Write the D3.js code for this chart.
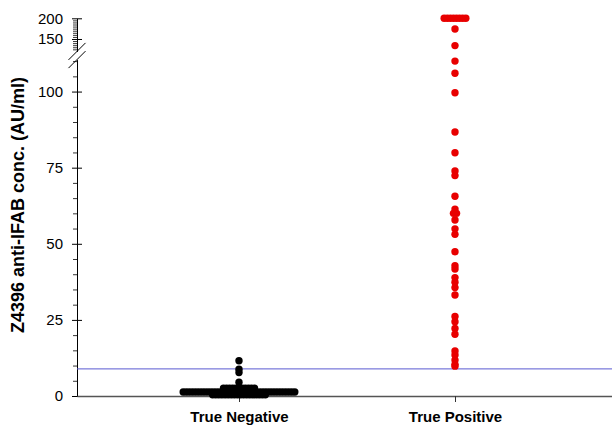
<!DOCTYPE html>
<html>
<head>
<meta charset="utf-8">
<script src="https://cdn.jsdelivr.net/npm/d3@7"></script>
<style>
  body { margin: 0; background: #fff; }
  text { font-family: "Liberation Sans", Arial, sans-serif; }
</style>
</head>
<body>
<svg id="chart" width="612" height="428"></svg>
<script>
// categories on the x axis
const categories = ["True Negative", "True Positive"];

// true negatives (AU/ml)
const negValues = [
  11.6, 8.8, 7.7, 4.5,
  2.6, 2.6, 2.6, 2.6, 2.6, 2.6, 2.6, 2.6, 2.6, 2.6, 2.6,
  1.3, 1.3, 1.3, 1.3, 1.3, 1.3, 1.3, 1.3, 1.3, 1.3,
  1.3, 1.3, 1.3, 1.3, 1.3, 1.3, 1.3, 1.3, 1.3, 1.3,
  1.3, 1.3, 1.3, 1.3, 1.3, 1.3, 1.3, 1.3, 1.3, 1.3,
  1.3, 1.3, 1.3, 1.3, 1.3, 1.3, 1.3,
  0.4, 0.4, 0.4, 0.4, 0.4, 0.4, 0.4, 0.4, 0.4,
  0.4, 0.4, 0.4, 0.4, 0.4, 0.4, 0.4, 0.4, 0.4
];

// true positives (AU/ml), values above the scale are shown at 200
const posValues = [
  200, 200, 200, 200, 200, 200, 200, 200,
  174, 134, 110, 106, 99.6, 86.7, 79.9, 73.9, 72.4, 65.6,
  61.4, 60.0, 60.0, 57.8, 54.9, 53.1, 47.4, 42.8, 41.7, 38.9,
  37.4, 35.6, 33.2, 26.1, 24.4, 22.2, 20.3, 14.8, 13.5, 11.8,
  10.4, 9.8
];

const cutoff = 8.9;
const lowTicks = [0, 25, 50, 75, 100];
const highTicks = [150, 200];

const svg = d3.select("#chart");
const axisX = 77;

// x: two categories
const x = d3.scalePoint().domain(categories).range([axisX, 617]).padding(0.75);

// y: broken axis, lower and upper segment
const yLow = d3.scaleLinear().domain([0, 110.5]).range([396, 59.6]);
const yHigh = d3.scaleLinear().domain([120, 200]).range([51.4, 18.3]);
const y = v => v > 115 ? yHigh(v) : yLow(v);

// y axis segments
function drawY(scale, major, minor) {
  const gMinor = svg.append("g")
    .attr("transform", `translate(${axisX},0)`)
    .call(d3.axisLeft(scale).tickValues(minor).tickSize(4).tickSizeOuter(0).tickFormat(""));
  gMinor.select(".domain").remove();
  gMinor.selectAll("line").attr("stroke", "#000").attr("stroke-width", 0.8);

  const g = svg.append("g")
    .attr("transform", `translate(${axisX},0)`)
    .call(d3.axisLeft(scale).tickValues(major).tickSize(5).tickSizeOuter(0).tickPadding(9));
  g.select(".domain").attr("stroke", "#000");
  g.selectAll(".tick line").attr("x1", 5).attr("stroke", "#000");
  g.selectAll(".tick text")
    .style("font-size", "15px")
    .attr("fill", "#000");
}
drawY(yLow, lowTicks, d3.range(5, 111, 5).filter(v => !lowTicks.includes(v)));
drawY(yHigh, highTicks, d3.range(125, 200, 5).filter(v => !highTicks.includes(v)));

// break marks
[yHigh(120), yLow(110.5)].forEach(by => {
  svg.append("line")
    .attr("x1", axisX - 8.5).attr("y1", by + 8.5)
    .attr("x2", axisX + 8.5).attr("y2", by - 8.5)
    .attr("stroke", "#000").attr("stroke-width", 1);
});

// cutoff line
svg.append("line")
  .attr("x1", axisX).attr("x2", 612)
  .attr("y1", yLow(cutoff)).attr("y2", yLow(cutoff))
  .attr("stroke", "#5a5ad2").attr("stroke-width", 1);

// x axis
const gx = svg.append("g")
  .attr("transform", `translate(0,${yLow(0)})`)
  .call(d3.axisBottom(x).tickSize(6).tickSizeOuter(0).tickPadding(9));
gx.select(".domain").attr("stroke", "#555").attr("stroke-width", 1.6);
gx.selectAll(".tick line").attr("stroke", "#333");
gx.selectAll(".tick text")
  .style("font-size", "15px")
  .style("font-weight", "bold")
  .attr("fill", "#000");

// dots: equal values spread sideways
const step = 3.1;
function swarm(values, cat) {
  const out = [];
  d3.group(values, v => v).forEach((grp, v) => {
    grp.forEach((_, i) => {
      out.push({ v: v, dx: (i - (grp.length - 1) / 2) * step, cat: cat });
    });
  });
  return out;
}
const dots = swarm(negValues, categories[0]).concat(swarm(posValues, categories[1]));

svg.append("g").selectAll("circle")
  .data(dots)
  .enter()
  .append("circle")
  .attr("cx", d => x(d.cat) + d.dx)
  .attr("cy", d => y(d.v))
  .attr("r", 3.7)
  .attr("fill", d => d.cat === categories[0] ? "#000" : "#e80000");

// y title
svg.append("text")
  .attr("transform", "translate(24,205) rotate(-90)")
  .attr("text-anchor", "middle")
  .style("font-size", "18px")
  .style("font-weight", "bold")
  .text("Z4396 anti-IFAB conc. (AU/ml)");
</script>
</body>
</html>
